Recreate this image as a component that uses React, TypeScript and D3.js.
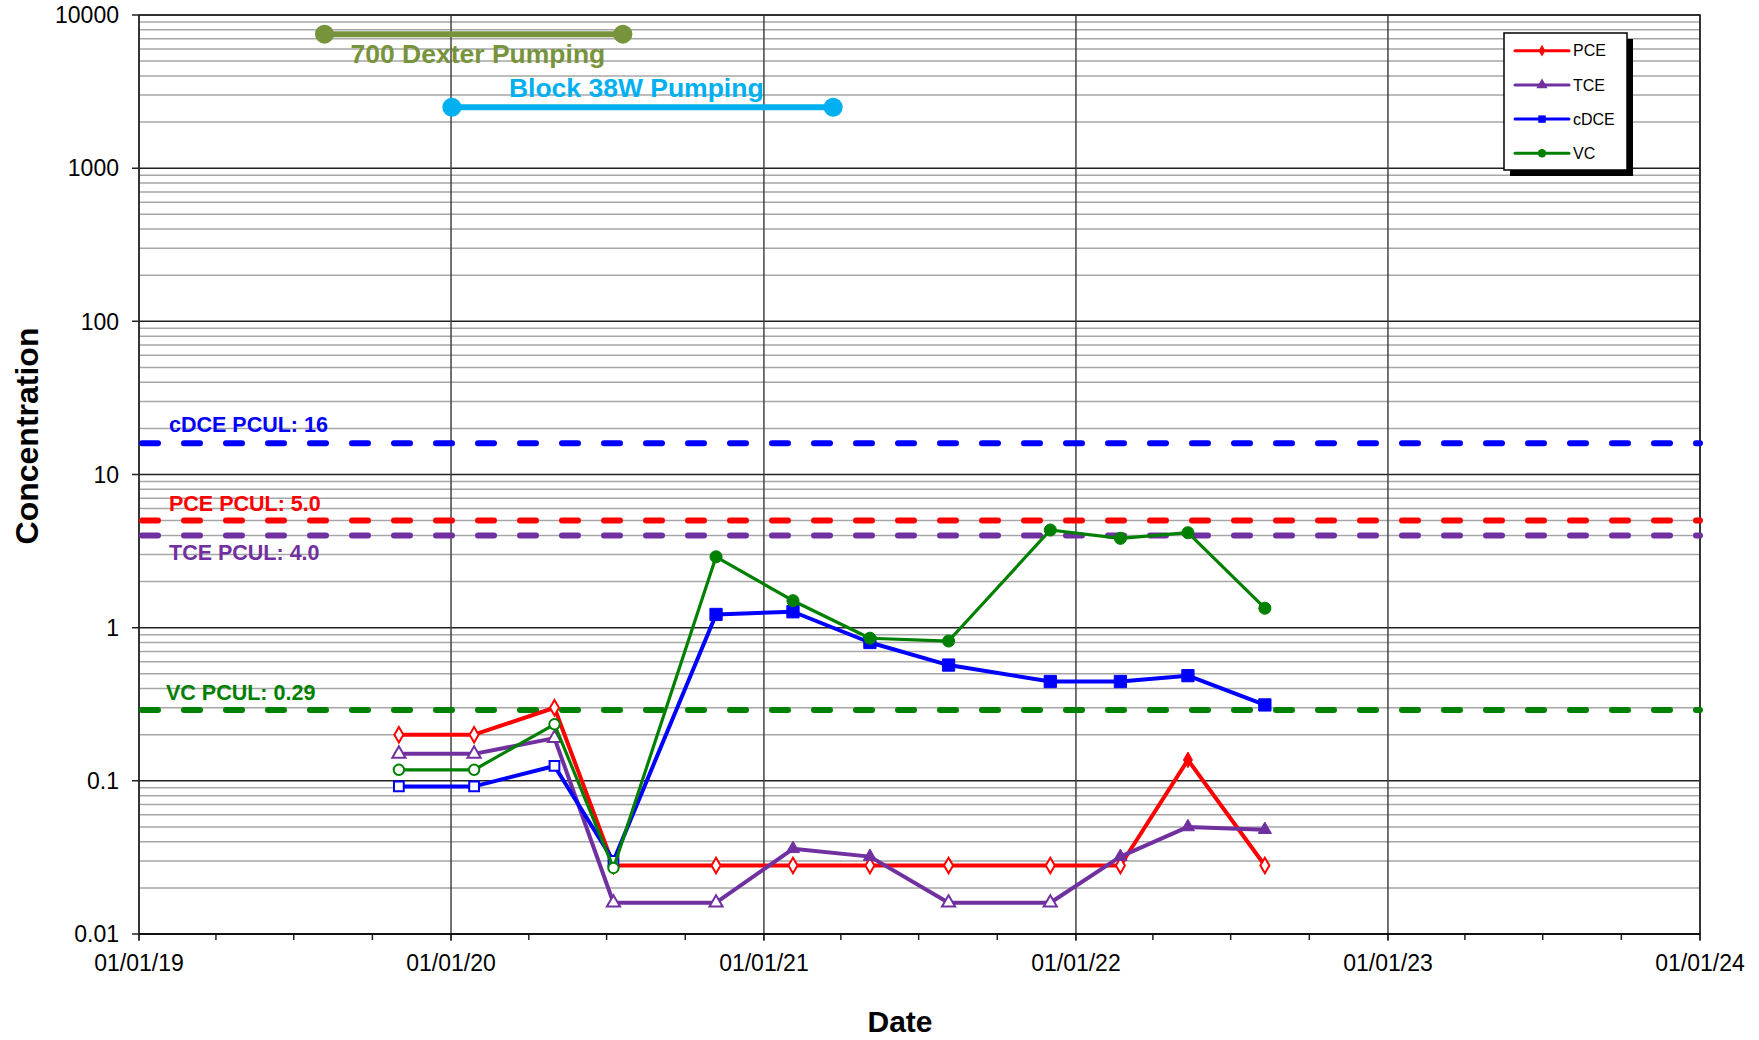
import * as d3 from 'd3';

const W = 1759;
const H = 1040;
const margin = { top: 15, right: 59, bottom: 106, left: 139 };

const FONT = 'Liberation Sans, Arial, sans-serif';

// sample dates and concentrations
const sampleDates = [
  '2019-11-01', '2020-01-28', '2020-05-01', '2020-07-09', '2020-11-06', '2021-02-04',
  '2021-05-05', '2021-08-05', '2021-12-02', '2022-02-22', '2022-05-12', '2022-08-10',
];
const pce = [0.2, 0.2, 0.3, 0.028, 0.028, 0.028, 0.028, 0.028, 0.028, 0.028, 0.137, 0.028];
const pceDetected = [0, 0, 0, 0, 0, 0, 0, 0, 0, 0, 1, 0];
const tce = [0.15, 0.15, 0.19, 0.016, 0.016, 0.036, 0.032, 0.016, 0.016, 0.032, 0.05, 0.048];
const tceDetected = [0, 0, 0, 0, 0, 1, 1, 0, 0, 1, 1, 1];
const cdce = [0.092, 0.092, 0.125, 0.03, 1.22, 1.27, 0.8, 0.57, 0.445, 0.445, 0.486, 0.313];
const cdceDetected = [0, 0, 0, 0, 1, 1, 1, 1, 1, 1, 1, 1];
const vc = [0.118, 0.118, 0.234, 0.027, 2.9, 1.5, 0.853, 0.818, 4.34, 3.83, 4.17, 1.34];
const vcDetected = [0, 0, 0, 0, 1, 1, 1, 1, 1, 1, 1, 1];

// cleanup levels
const pculNames = ['cDCE PCUL: 16', 'PCE PCUL: 5.0', 'TCE PCUL: 4.0', 'VC PCUL: 0.29'];
const pculValues = [16, 5.0, 4.0, 0.29];
const pculColors = ['#0000ff', '#ff0000', '#7030a0', '#008000'];

// pumping periods
const pumpNames = ['700 Dexter Pumping', 'Block 38W Pumping'];
const pumpStart = ['2019-08-06', '2020-01-02'];
const pumpEnd = ['2020-07-20', '2021-03-23'];
const pumpLevel = [7500, 2500];
const pumpColors = ['#77933c', '#00b0f0'];

const yTickValues = [0.01, 0.1, 1, 10, 100, 1000, 10000];
const yTickLabels = ['0.01', '0.1', '1', '10', '100', '1000', '10000'];

const parse = d3.timeParse('%Y-%m-%d');

type Series = {
  name: string;
  values: number[];
  detected: number[];
  color: string;
  marker: 'diamond' | 'triangle' | 'square' | 'circle';
};

const series: Series[] = [
  { name: 'PCE', values: pce, detected: pceDetected, color: '#ff0000', marker: 'diamond' },
  { name: 'TCE', values: tce, detected: tceDetected, color: '#7030a0', marker: 'triangle' },
  { name: 'cDCE', values: cdce, detected: cdceDetected, color: '#0000ff', marker: 'square' },
  { name: 'VC', values: vc, detected: vcDetected, color: '#008000', marker: 'circle' },
];

const symbolTypes = {
  diamond: d3.symbolDiamond,
  triangle: d3.symbolTriangle,
  square: d3.symbolSquare,
  circle: d3.symbolCircle,
};

function Marker({ x, y, s, filled }: { x: number; y: number; s: Series; filled: boolean }) {
  const size = s.marker === 'diamond' ? 70 : s.marker === 'triangle' ? 75 : s.marker === 'square' ? (filled ? 150 : 95) : filled ? 115 : 85;
  const d = d3.symbol(symbolTypes[s.marker], size)() || '';
  return (
    <path
      d={d}
      transform={`translate(${x},${y})`}
      fill={filled ? s.color : '#ffffff'}
      stroke={s.color}
      strokeWidth={filled ? 1 : 2}
    />
  );
}

export default function App() {
  const x = d3
    .scaleTime()
    .domain([parse('2019-01-01')!, parse('2024-01-01')!])
    .range([margin.left, W - margin.right]);
  const y = d3
    .scaleLog()
    .domain([0.01, 10000])
    .range([H - margin.bottom, margin.top]);

  const x0 = margin.left;
  const x1 = W - margin.right;
  const yb = H - margin.bottom;

  const dates = sampleDates.map((d) => parse(d)!);
  const years = d3.timeYear.range(parse('2019-01-01')!, parse('2024-01-02')!);
  const quarters = d3.timeMonth.every(3)!.range(parse('2019-01-01')!, parse('2024-01-02')!);

  // minor log gridlines 2..9 per decade
  const minorY: number[] = [];
  for (let e = -2; e < 4; e++) {
    for (let m = 2; m <= 9; m++) minorY.push(m * Math.pow(10, e));
  }

  const line = d3
    .line<number>()
    .x((_, i) => x(dates[i]))
    .y((v) => y(v));

  const fmt = d3.timeFormat('%m/%d/%y');

  // legend box
  const lg = { x: 1504, y: 33, w: 123, h: 137 };

  return (
    <svg width={W} height={H} style={{ position: 'absolute', left: 0, top: 0, background: '#fff' }} fontFamily={FONT}>
      {/* minor horizontal grid */}
      {minorY.map((v) => (
        <line key={'m' + v} x1={x0} x2={x1} y1={y(v)} y2={y(v)} stroke="#a6a6a6" strokeWidth={1.5} />
      ))}
      {/* major horizontal grid */}
      {yTickValues.map((v) => (
        <line key={'M' + v} x1={x0 - 7} x2={x1} y1={y(v)} y2={y(v)} stroke="#222" strokeWidth={1.5} />
      ))}
      {/* vertical year grid */}
      {years.map((d) => (
        <line key={'v' + d.getTime()} x1={x(d)} x2={x(d)} y1={margin.top} y2={yb + 7} stroke="#444" strokeWidth={1.5} />
      ))}
      {/* quarterly ticks */}
      {quarters.map((d) => (
        <line key={'q' + d.getTime()} x1={x(d)} x2={x(d)} y1={yb} y2={yb + 6} stroke="#222" strokeWidth={1.5} />
      ))}
      {/* plot frame */}
      <rect x={x0} y={margin.top} width={x1 - x0} height={yb - margin.top} fill="none" stroke="#222" strokeWidth={1.5} />
      <line x1={x0} x2={x1} y1={yb} y2={yb} stroke="#111" strokeWidth={2} />

      {/* y tick labels */}
      {yTickValues.map((v, i) => (
        <text key={'yl' + v} x={119} y={y(v)} dy="0.36em" textAnchor="end" fontSize={23} fill="#000">
          {yTickLabels[i]}
        </text>
      ))}
      {/* x tick labels */}
      {years.map((d) => (
        <text key={'xl' + d.getTime()} x={x(d)} y={971} textAnchor="middle" fontSize={23} fill="#000">
          {fmt(d)}
        </text>
      ))}

      {/* axis titles */}
      <text x={900} y={1032} textAnchor="middle" fontSize={30} fontWeight="bold" fill="#000">
        Date
      </text>
      <text
        transform="translate(38,436) rotate(-90)"
        textAnchor="middle"
        fontSize={32}
        fontWeight="bold"
        fill="#000"
      >
        Concentration
      </text>

      {/* PCUL lines */}
      {pculValues.map((v, i) => (
        <line
          key={'p' + i}
          x1={x0 + 3}
          x2={x1}
          y1={y(v)}
          y2={y(v)}
          stroke={pculColors[i]}
          strokeWidth={6}
          strokeDasharray="16 26"
          strokeLinecap="round"
        />
      ))}
      {pculValues.map((v, i) => {
        const below = pculNames[i].startsWith('TCE');
        const yy = below ? y(v) + 25 : y(v) - (i === 0 ? 11.5 : 10);
        return (
          <text key={'pt' + i} x={i === 3 ? 166 : 169} y={yy} fontSize={21.5} fontWeight="bold" fill={pculColors[i]}>
            {pculNames[i]}
          </text>
        );
      })}

      {/* pumping periods */}
      {pumpNames.map((n, i) => {
        const xs = x(parse(pumpStart[i])!);
        const xe = x(parse(pumpEnd[i])!);
        const yy = y(pumpLevel[i]);
        return (
          <g key={'pump' + i}>
            <line x1={xs} x2={xe} y1={yy} y2={yy} stroke={pumpColors[i]} strokeWidth={6} />
            <circle cx={xs} cy={yy} r={9.5} fill={pumpColors[i]} />
            <circle cx={xe} cy={yy} r={9.5} fill={pumpColors[i]} />
            <text
              x={i === 0 ? xs + 26 : xs + 57}
              y={i === 0 ? yy + 29 : yy - 10}
              fontSize={26.5}
              fontWeight="bold"
              fill={pumpColors[i]}
            >
              {n}
            </text>
          </g>
        );
      })}

      {/* data series */}
      {series.map((s) => (
        <g key={s.name}>
          <path d={line(s.values) || ''} fill="none" stroke={s.color} strokeWidth={s.name === 'VC' ? 3.2 : 4} strokeLinejoin="round" />
          {s.values.map((v, i) => (
            <Marker key={i} x={x(dates[i])} y={y(v)} s={s} filled={s.detected[i] === 1} />
          ))}
        </g>
      ))}

      {/* legend */}
      <rect x={lg.x + 6} y={lg.y + 6} width={lg.w} height={lg.h} fill="#000" />
      <rect x={lg.x} y={lg.y} width={lg.w} height={lg.h} fill="#fff" stroke="#000" strokeWidth={1.5} />
      {series.map((s, i) => {
        const ly = 50.7 + i * 34.2;
        const d = d3.symbol(symbolTypes[s.marker], s.marker === 'diamond' ? 40 : 55)() || '';
        return (
          <g key={'lg' + s.name}>
            <line x1={1515} x2={1569} y1={ly} y2={ly} stroke={s.color} strokeWidth={3} strokeLinecap="round" />
            <path d={d} transform={`translate(1542,${ly})`} fill={s.color} />
            <text x={1573} y={ly} dy="0.36em" fontSize={16} fill="#000">
              {s.name}
            </text>
          </g>
        );
      })}
    </svg>
  );
}
